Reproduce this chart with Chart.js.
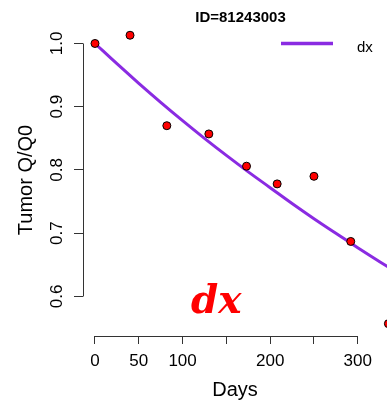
<!DOCTYPE html>
<html><head><meta charset="utf-8">
<script src="https://cdn.jsdelivr.net/npm/chart.js@4/dist/chart.umd.min.js"></script>
<style>html,body{margin:0;padding:0;background:#fff;overflow:hidden}#wrap{position:relative;width:387px;height:404px}</style>
</head><body><div id="wrap"><canvas id="c" width="387" height="404"></canvas></div>
<script>
// ---- data ----
const chartTitle = 'ID=81243003';
const seriesName = 'dx';
const annotationText = 'dx';
const xLabel = 'Days';
const yLabel = 'Tumor Q/Q0';
const obsDays   = [0, 40, 82, 130, 173, 208, 250, 292, 335];
const obsValues = [1.000, 1.013, 0.870, 0.857, 0.806, 0.778, 0.790, 0.687, 0.557];
const fitDays   = [0, 25, 50, 75, 100, 125, 150, 175, 200, 225, 250, 275, 300, 325, 340];
const fitValues = [1.000, 0.968, 0.937, 0.907, 0.878, 0.850, 0.823, 0.797, 0.772, 0.747, 0.723, 0.700, 0.677, 0.655, 0.642];
const xTicks = [0, 50, 100, 150, 200, 250, 300];
const xTickLabels = ['0', '50', '100', '', '200', '', '300'];
const yTicks = [0.6, 0.7, 0.8, 0.9, 1.0];
const yTickLabels = ['0.6', '0.7', '0.8', '0.9', '1.0'];

const FONT = '"Liberation Sans", Arial, sans-serif';
const LINE_COLOR = '#8A2BE2';

const rAxes = {
  id: 'rAxes',
  beforeDatasetsDraw(chart) {
    const {ctx, chartArea, scales: {x, y}} = chart;
    ctx.save();
    ctx.strokeStyle = '#333';
    ctx.lineWidth = 1;
    ctx.beginPath();
    const by = Math.round(chartArea.bottom) + 0.5;
    ctx.moveTo(x.getPixelForValue(xTicks[0]), by);
    ctx.lineTo(x.getPixelForValue(xTicks[xTicks.length - 1]), by);
    const lx = Math.round(chartArea.left) + 0.5;
    ctx.moveTo(lx, y.getPixelForValue(yTicks[0]));
    ctx.lineTo(lx, y.getPixelForValue(yTicks[yTicks.length - 1]));
    ctx.stroke();
    ctx.restore();
  }
};

const rTexts = {
  id: 'rTexts',
  afterDraw(chart) {
    const {ctx} = chart;
    ctx.save();
    ctx.fillStyle = '#000';
    ctx.textBaseline = 'alphabetic';
    ctx.textAlign = 'center';
    ctx.font = 'bold 15px ' + FONT;
    ctx.fillText(chartTitle, 240.5, 22);
    // legend
    ctx.strokeStyle = LINE_COLOR;
    ctx.lineWidth = 3.5;
    ctx.beginPath();
    ctx.moveTo(281, 43.5);
    ctx.lineTo(333, 43.5);
    ctx.stroke();
    ctx.textAlign = 'left';
    ctx.font = '15px ' + FONT;
    ctx.fillText(seriesName, 357, 51.5);
    // annotation
    ctx.fillStyle = '#FF0000';
    ctx.font = 'italic bold 39px "DejaVu Serif", serif';
    ctx.fillText(annotationText, 191, 312.5);
    ctx.restore();
  }
};

new Chart(document.getElementById('c'), {
  type: 'scatter',
  data: {
    datasets: [
      {
        label: 'observed',
        data: obsDays.map((d, i) => ({x: d, y: obsValues[i]})),
        backgroundColor: '#FF0000',
        borderColor: '#000',
        borderWidth: 1,
        pointRadius: 4,
        order: 0,
        clip: false
      },
      {
        label: seriesName,
        type: 'line',
        data: fitDays.map((d, i) => ({x: d, y: fitValues[i]})),
        borderColor: LINE_COLOR,
        borderWidth: 3,
        pointRadius: 0,
        tension: 0.4,
        fill: false,
        order: 1
      }
    ]
  },
  options: {
    responsive: false,
    animation: false,
    devicePixelRatio: 1,
    layout: {autoPadding: false, padding: {left: 0, right: 0, top: 24, bottom: 0}},
    plugins: {legend: {display: false}, tooltip: {enabled: false}, title: {display: false}},
    scales: {
      x: {
        type: 'linear',
        min: -13.7,
        max: 333.4,
        afterBuildTicks: s => { s.ticks = xTicks.map(v => ({value: v})); },
        afterFit: s => { s.height = 68; s.paddingLeft = 0; s.paddingRight = 0; },
        ticks: {
          callback: (v, i) => xTickLabels[i],
          autoSkip: false, maxRotation: 0, minRotation: 0,
          font: {size: 17, family: FONT}, color: '#000', padding: 7
        },
        grid: {drawOnChartArea: false, drawTicks: true, tickLength: 8, color: '#333', lineWidth: 1},
        border: {display: false},
        title: {display: true, text: xLabel, font: {size: 20, family: FONT}, color: '#000', padding: {top: 0, bottom: 2}}
      },
      y: {
        type: 'linear',
        min: 0.5375,
        max: 1.0308,
        afterBuildTicks: s => { s.ticks = yTicks.map(v => ({value: v})); },
        afterFit: s => { s.width = 83; s.paddingTop = 0; s.paddingBottom = 0; },
        ticks: {
          callback: (v, i) => yTickLabels[i],
          autoSkip: false, minRotation: 90, maxRotation: 90, crossAlign: 'center',
          font: {size: 17, family: FONT}, color: '#000', padding: 5
        },
        grid: {drawOnChartArea: false, drawTicks: true, tickLength: 9, color: '#333', lineWidth: 1},
        border: {display: false},
        title: {display: true, text: yLabel, font: {size: 20, family: FONT}, color: '#000', padding: {top: 14, bottom: 0}}
      }
    }
  },
  plugins: [rAxes, rTexts]
});
</script>
</body></html>
